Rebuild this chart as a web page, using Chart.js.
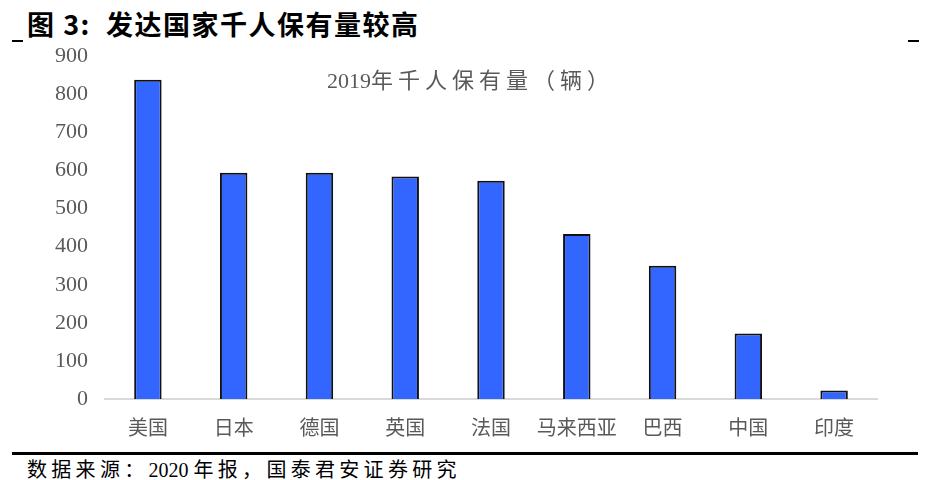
<!DOCTYPE html>
<html>
<head>
<meta charset="utf-8">
<script src="https://cdn.jsdelivr.net/npm/chart.js@4"></script>
<style>
  body { margin: 0; width: 933px; height: 480px; background: #fff; position: relative; overflow: hidden; }
  #head { position: absolute; left: 27px; top: 4px; font: bold 27px "Noto Sans CJK SC", sans-serif; letter-spacing: 1.5px; color: #000; }
  .tick { position: absolute; top: 40px; width: 11px; height: 2px; background: #000; }
  #wrap { position: absolute; left: 0; top: 26px; width: 933px; height: 424px; }
  #sub { position: absolute; left: 4px; width: 933px; top: 62px; text-align: center; font: 22px "Liberation Serif", "Noto Sans CJK SC", serif; letter-spacing: 5px; color: #595959; }
  #rule { position: absolute; left: 12px; top: 452px; width: 906px; height: 3px; background: #000; }
  #src { position: absolute; left: 27px; top: 454px; font: 20px "Liberation Serif", "Noto Sans CJK SC", serif; letter-spacing: 4.3px; color: #000; }
  .num { letter-spacing: 0; }
</style>
</head>
<body>
<div id="head">图 3:&nbsp; 发达国家千人保有量较高</div>
<div class="tick" style="left:12px"></div>
<div class="tick" style="left:908px"></div>
<div id="wrap"><canvas id="chart"></canvas></div>
<div id="sub"><span class="num">2019</span>年千人保有量（辆）</div>
<div id="rule"></div>
<div id="src">数据来源：<span class="num">2020 </span>年报，国泰君安证券研究</div>
<script>
// 2019 cars per thousand people
const countries = ["美国", "日本", "德国", "英国", "法国", "马来西亚", "巴西", "中国", "印度"];
const carsPer1000 = [838, 594, 594, 584, 573, 433, 350, 172, 22];
const yTicks = [0, 100, 200, 300, 400, 500, 600, 700, 800, 900];

const chartCanvas = document.getElementById("chart");

new Chart(chartCanvas, {
    type: "bar",
    data: {
        labels: countries,
        datasets: [{
            data: carsPer1000,
            backgroundColor: "#3366FF",
            borderColor: "#111",
            borderWidth: 2,
            barPercentage: 0.32,
            categoryPercentage: 1
        }]
    },
    options: {
        responsive: true,
        maintainAspectRatio: false,
        animation: false,
        layout: { padding: { top: 1, right: 56, left: 0, bottom: 0 } },
        plugins: { legend: { display: false }, tooltip: { enabled: false } },
        scales: {
            x: {
                grid: { display: false, drawTicks: false },
                border: { display: true, color: "#d9d9d9", width: 2 },
                ticks: { color: "#595959", padding: 19, maxRotation: 0, minRotation: 0, autoSkip: false,
                         font: { family: "'Liberation Serif', 'Noto Sans CJK SC', serif", size: 20 } },
                afterFit: s => { s.height = 51; }
            },
            y: {
                min: 0,
                max: 900,
                afterBuildTicks: s => { s.ticks = yTicks.map(v => ({ value: v })); },
                grid: { display: false, drawTicks: false },
                border: { display: false },
                ticks: { color: "#595959", padding: 17, font: { family: "'Liberation Serif', serif", size: 22 } },
                afterFit: s => { s.width = 105; }
            }
        }
    }
});
</script>
</body>
</html>
